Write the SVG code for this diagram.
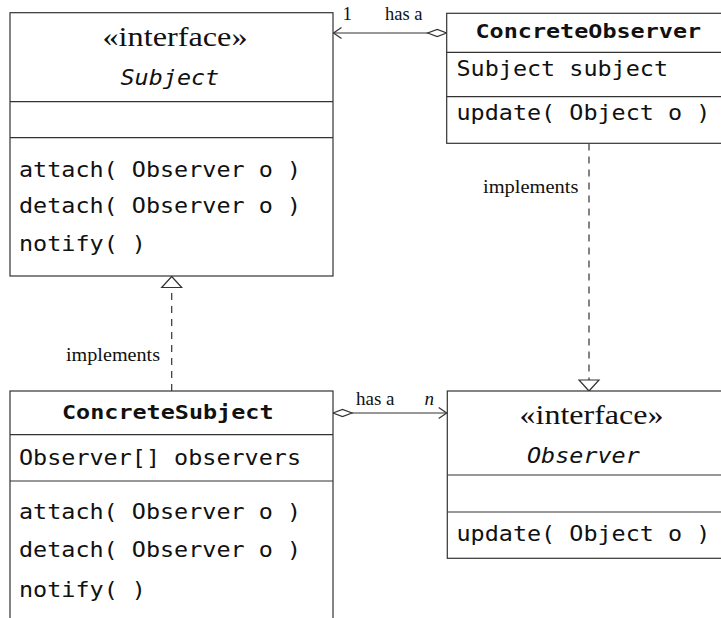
<svg xmlns="http://www.w3.org/2000/svg" width="721" height="618" viewBox="0 0 721 618">
<style>
.box{fill:#fff;stroke:#333;stroke-width:1.2}
.div{stroke:#333;stroke-width:1.2}
.mono{font-family:"DejaVu Sans Mono","Liberation Mono",monospace;font-size:20.5px;fill:#111}
.bold{font-weight:bold;font-size:19px}
.ital{font-style:italic}
.serif{font-family:"Liberation Serif","DejaVu Serif",serif;fill:#111}
.st{font-size:27px}
.lbl{font-size:19px}
.conn{fill:none;stroke:#333;stroke-width:1.2}
.dash{stroke-dasharray:7 6}
</style>
<defs>
<marker id="open" markerUnits="userSpaceOnUse" orient="auto" refX="0" refY="0" markerWidth="20" markerHeight="20" overflow="visible">
<path d="M-8,-5.5 L0,0 L-8,5.5" fill="none" stroke="#333" stroke-width="1.2"/>
</marker>
<marker id="diamond" markerUnits="userSpaceOnUse" orient="auto" refX="0" refY="0" markerWidth="30" markerHeight="20" overflow="visible">
<path d="M0,0 L9.5,-3.6 L19,0 L9.5,3.6 Z" fill="#fff" stroke="#333" stroke-width="1.2"/>
</marker>
<marker id="tri" markerUnits="userSpaceOnUse" orient="auto" refX="0" refY="0" markerWidth="30" markerHeight="30" overflow="visible">
<path d="M0,0 L-11,-10 L-11,10 Z" fill="#fff" stroke="#333" stroke-width="1.2" stroke-dasharray="none"/>
</marker>
</defs>

<g id="connectors">
<path class="conn" d="M446.7,33 L333.5,33" marker-start="url(#diamond)" marker-end="url(#open)"/>
<path class="conn" d="M333,413 L446.7,413" marker-start="url(#diamond)" marker-end="url(#open)"/>
<path class="conn dash" d="M171.7,391 L171.7,276.5" marker-end="url(#tri)"/>
<path class="conn dash" d="M589,143.5 L589,391" marker-end="url(#tri)"/>
<text class="serif lbl" x="342.5" y="20">1</text>
<text class="serif lbl" x="385" y="20" textLength="37.5" lengthAdjust="spacingAndGlyphs">has a</text>
<text class="serif lbl" x="356" y="405" textLength="38.5" lengthAdjust="spacingAndGlyphs">has a</text>
<text class="serif lbl ital" x="424.5" y="405">n</text>
<text class="serif lbl" x="483" y="193" textLength="95.5" lengthAdjust="spacingAndGlyphs">implements</text>
<text class="serif lbl" x="66" y="361" textLength="94" lengthAdjust="spacingAndGlyphs">implements</text>
</g>

<g id="Subject">
<rect class="box" x="10" y="12.7" width="323" height="263.3"/>
<line class="div" x1="10" y1="101.7" x2="333" y2="101.7"/>
<line class="div" x1="10" y1="137.7" x2="333" y2="137.7"/>
<text class="serif st" x="102.5" y="46" textLength="145" lengthAdjust="spacingAndGlyphs">«interface»</text>
<text class="mono ital" x="120.5" y="85" textLength="98.7" lengthAdjust="spacingAndGlyphs">Subject</text>
<text class="mono" x="19" y="176.5" textLength="282" lengthAdjust="spacingAndGlyphs">attach( Observer o )</text>
<text class="mono" x="19" y="213.3" textLength="282" lengthAdjust="spacingAndGlyphs">detach( Observer o )</text>
<text class="mono" x="19" y="250.5" textLength="127" lengthAdjust="spacingAndGlyphs">notify( )</text>
</g>

<g id="ConcreteObserver">
<rect class="box" x="446.7" y="13.3" width="290" height="130"/>
<line class="div" x1="446.7" y1="52.3" x2="736.7" y2="52.3"/>
<line class="div" x1="446.7" y1="96.7" x2="736.7" y2="96.7"/>
<text class="mono bold" x="475.5" y="38" textLength="225.6" lengthAdjust="spacingAndGlyphs">ConcreteObserver</text>
<text class="mono" x="456.5" y="76" textLength="211.5" lengthAdjust="spacingAndGlyphs">Subject subject</text>
<text class="mono" x="456.5" y="120" textLength="253.8" lengthAdjust="spacingAndGlyphs">update( Object o )</text>
</g>

<g id="Observer">
<rect class="box" x="447.3" y="391" width="290" height="167.3"/>
<line class="div" x1="447.3" y1="475" x2="737.3" y2="475"/>
<line class="div" x1="447.3" y1="512" x2="737.3" y2="512"/>
<text class="serif st" x="519.5" y="423.8" textLength="144" lengthAdjust="spacingAndGlyphs">«interface»</text>
<text class="mono ital" x="527" y="463.3" textLength="112.8" lengthAdjust="spacingAndGlyphs">Observer</text>
<text class="mono" x="456.5" y="540.7" textLength="253.8" lengthAdjust="spacingAndGlyphs">update( Object o )</text>
</g>

<g id="ConcreteSubject">
<rect class="box" x="10" y="391" width="323" height="240"/>
<line class="div" x1="10" y1="434.7" x2="333" y2="434.7"/>
<line class="div" x1="10" y1="481" x2="333" y2="481"/>
<text class="mono bold" x="62" y="419.3" textLength="211.5" lengthAdjust="spacingAndGlyphs">ConcreteSubject</text>
<text class="mono" x="19" y="465" textLength="282" lengthAdjust="spacingAndGlyphs">Observer[] observers</text>
<text class="mono" x="19" y="519.3" textLength="282" lengthAdjust="spacingAndGlyphs">attach( Observer o )</text>
<text class="mono" x="19" y="557.3" textLength="282" lengthAdjust="spacingAndGlyphs">detach( Observer o )</text>
<text class="mono" x="19" y="597" textLength="127" lengthAdjust="spacingAndGlyphs">notify( )</text>
</g>
</svg>
